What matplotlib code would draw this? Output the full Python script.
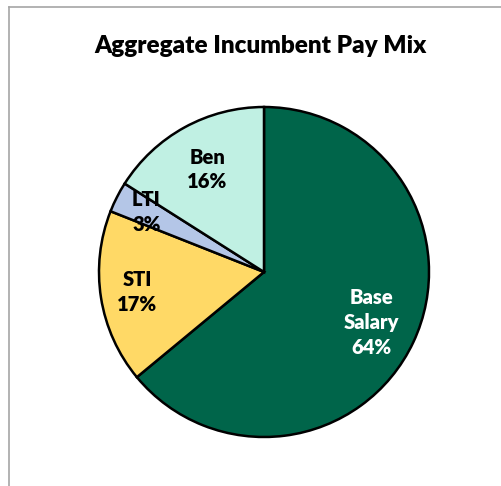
import numpy as np
import matplotlib
matplotlib.use("Agg")
import matplotlib.pyplot as plt
from matplotlib.lines import Line2D

categories = ["Base\nSalary", "STI", "LTI", "Ben"]
values = [64, 17, 3, 16]
colors = ["#00654A", "#FFD966", "#B4C6E7", "#C0F0E3"]
text_colors = ["white", "black", "black", "black"]
label_dist = [0.72, 0.78, 0.80, 0.71]

plt.rcParams['font.family'] = ['Lato', 'DejaVu Sans']

W, H = 502, 486
fig = plt.figure(figsize=(W/100, H/100), dpi=100)

cx, cy, R = 264, 486-272, 165
ax = fig.add_axes([(cx-R)/W, (cy-R)/H, 2*R/W, 2*R/H])
wedges, _ = ax.pie(values, colors=colors, startangle=90, counterclock=False,
                   wedgeprops=dict(edgecolor='black', linewidth=1.8))
ax.set_aspect('equal')
ax.set_xlim(-1, 1); ax.set_ylim(-1, 1)
for w, lab, v, tc, d in zip(wedges, categories, values, text_colors, label_dist):
    ang = np.deg2rad((w.theta1 + w.theta2) / 2)
    ax.text(d*np.cos(ang), d*np.sin(ang), f"{lab}\n{v}%", ha='center', va='center',
            fontsize=14.5, fontweight='heavy', color=tc, linespacing=1.35)

fig.text(261/W, 1-46/H, "Aggregate Incumbent Pay Mix", ha='center', va='center',
         fontsize=17.5, fontweight='heavy')

fig.add_artist(Line2D([9/W, 1], [1-7/H, 1-7/H], color='#A6A6A6', lw=1.2, transform=fig.transFigure))
fig.add_artist(Line2D([9/W, 9/W], [0, 1-7/H], color='#A6A6A6', lw=1.2, transform=fig.transFigure))

fig.savefig("out.png", dpi=100)
